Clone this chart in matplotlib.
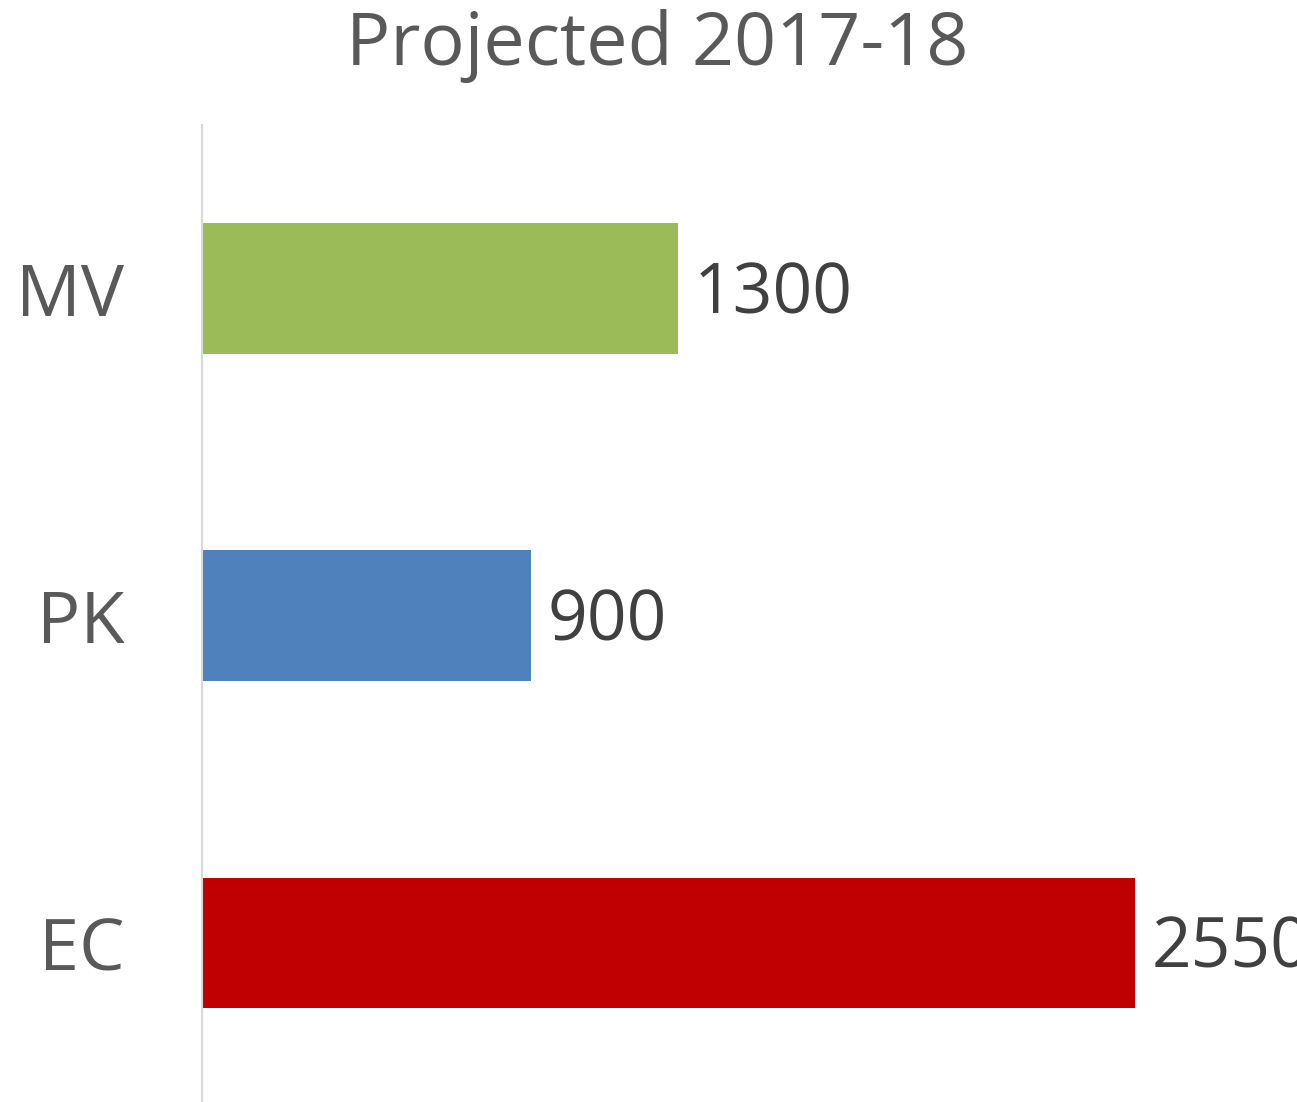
import matplotlib
matplotlib.use("Agg")
from matplotlib import pyplot as plt

categorias = ["EC", "PK", "MV"]
valores = [2550, 900, 1300]
colores = ["#C00000", "#4F81BD", "#9BBB59"]

plt.rcParams["font.family"] = ["Open Sans", "DejaVu Sans"]

fig = plt.figure(figsize=(12.97, 11.02), dpi=100)
ax = fig.add_axes([202 / 1297, 0, 1 - 202 / 1297, 977 / 1102])

pos = range(len(categorias))
barras = ax.barh(pos, valores, height=0.4, color=colores)

for b, v in zip(barras, valores):
    ax.text(b.get_width() + 45, b.get_y() + b.get_height() / 2 - 0.02, str(v),
            va="center", ha="left", fontsize=50, color="#404040")

ax.set_xlim(0, 2993)
ax.set_ylim(-0.486, 2.50)
ax.set_yticks(list(pos))
ax.set_yticklabels(categorias, fontsize=52, color="#595959")
ax.tick_params(axis="y", length=0, pad=56)
ax.set_xticks([])

for s in ["top", "right", "bottom"]:
    ax.spines[s].set_visible(False)
ax.spines["left"].set_color("#D9D9D9")
ax.spines["left"].set_linewidth(1.5)

fig.text(657 / 1297, 1 - 46 / 1102, "Projected 2017-18", ha="center", va="center",
         fontsize=53, color="#595959")

fig.savefig("out.png", dpi=100)
